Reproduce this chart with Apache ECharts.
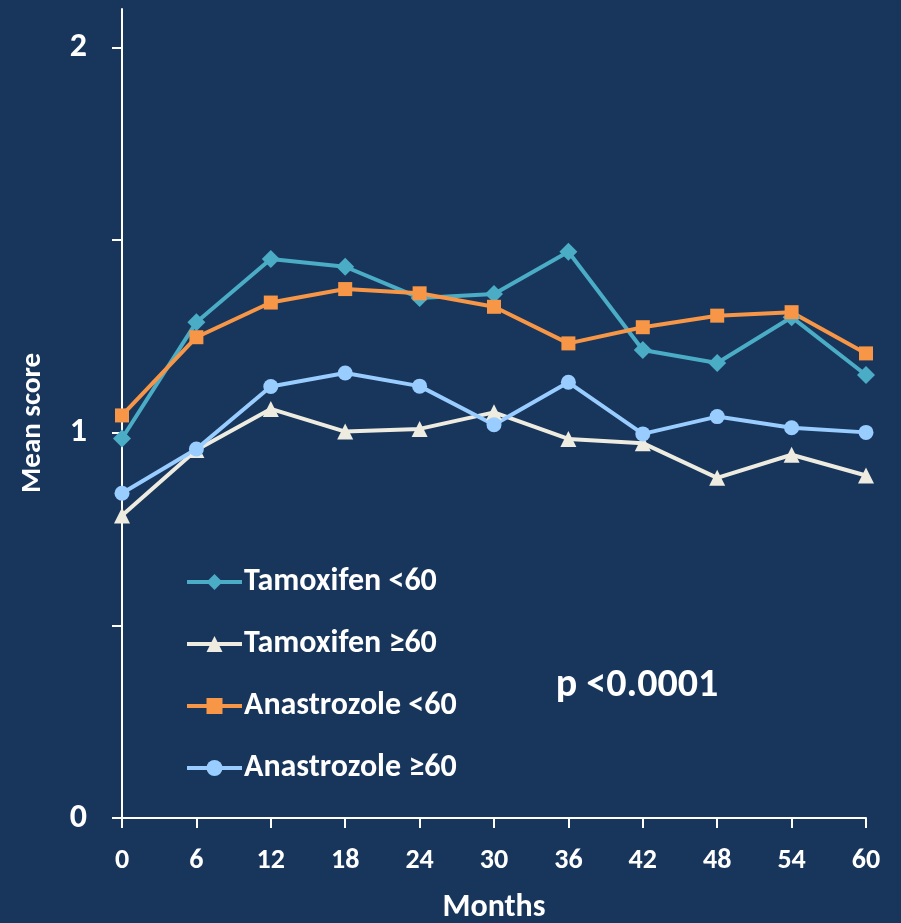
<!DOCTYPE html>
<html>
<head>
<meta charset="utf-8">
<style>
  html, body { margin: 0; padding: 0; background: #18365c; }
  #chart { width: 901px; height: 923px; }
</style>
<script src="https://cdn.jsdelivr.net/npm/echarts@6/dist/echarts.min.js"></script>
</head>
<body>
<div id="chart"></div>
<script>
// Months of follow-up
const months = [0, 6, 12, 18, 24, 30, 36, 42, 48, 54, 60];

// Mean score per group
const tamoxifenUnder60 = [0.985, 1.287, 1.451, 1.431, 1.350, 1.360, 1.470, 1.215, 1.181, 1.300, 1.150];
const tamoxifenOver60 = [0.785, 0.955, 1.062, 1.003, 1.010, 1.053, 0.984, 0.973, 0.883, 0.943, 0.889];
const anastrozoleUnder60 = [1.045, 1.248, 1.338, 1.373, 1.362, 1.327, 1.232, 1.274, 1.304, 1.313, 1.206];
const anastrozoleOver60 = [0.843, 0.958, 1.120, 1.155, 1.121, 1.021, 1.131, 0.997, 1.042, 1.013, 1.001];

const seriesNames = ['Tamoxifen <60', 'Tamoxifen \u226560', 'Anastrozole <60', 'Anastrozole \u226560'];
const yTicks = [0, 0.5, 1, 1.5, 2];
const yLabels = [0, 1, 2];

const FONT = 'Carlito, Lato, "Open Sans", sans-serif';
const WHITE = '#ffffff';

function pairs(values) {
  return months.map((m, i) => [m, values[i]]);
}

function lineSeries(name, values, color, symbol, size) {
  return {
    name: name,
    type: 'line',
    data: pairs(values),
    symbol: symbol,
    symbolSize: size,
    itemStyle: { color: color },
    lineStyle: { color: color, width: 4 },
    emphasis: { disabled: true },
    animation: false
  };
}

const chart = echarts.init(document.getElementById('chart'));
chart.setOption({
  backgroundColor: '#18365c',
  grid: { left: 122, right: 35, top: 9, bottom: 105, containLabel: false, outerBoundsMode: 'none' },
  xAxis: {
    type: 'value',
    min: 0, max: 60, interval: 6,
    name: 'Months',
    nameLocation: 'middle',
    nameGap: 74,
    nameTextStyle: { color: WHITE, fontFamily: FONT, fontWeight: 'bold', fontSize: 32 },
    axisLine: { lineStyle: { color: WHITE, width: 2 } },
    axisTick: { show: true, length: 10, lineStyle: { color: WHITE, width: 2 } },
    axisLabel: { color: WHITE, fontFamily: FONT, fontWeight: 'bold', fontSize: 28, margin: 29 },
    splitLine: { show: false }
  },
  yAxis: {
    type: 'value',
    min: 0, max: 2.1,
    axisLine: { show: true, lineStyle: { color: WHITE, width: 2 } },
    axisTick: { show: true, length: 10, customValues: yTicks, lineStyle: { color: WHITE, width: 2 } },
    axisLabel: { color: WHITE, fontFamily: FONT, fontWeight: 'bold', fontSize: 34, margin: 35, customValues: yLabels },
    splitLine: { show: false }
  },
  legend: {
    orient: 'vertical',
    left: 185, top: 566,
    padding: 0,
    itemWidth: 55, itemHeight: 20,
    itemGap: 30,
    data: seriesNames,
    lineStyle: { width: 4 },
    textStyle: { color: WHITE, fontFamily: FONT, fontWeight: 'bold', fontSize: 32, lineHeight: 32, padding: [0, 0, 0, -3] },
    selectedMode: false
  },
  graphic: [
    {
      type: 'text', x: 33, y: 423, rotation: Math.PI / 2,
      style: { text: 'Mean score', fill: WHITE, font: 'bold 29px ' + FONT, align: 'center', verticalAlign: 'middle' }
    },
    {
      type: 'text', x: 637, y: 686,
      style: { text: 'p <0.0001', fill: WHITE, font: 'bold 40px ' + FONT, align: 'center', verticalAlign: 'middle' }
    }
  ],
  series: [
    lineSeries(seriesNames[0], tamoxifenUnder60, '#4bacc6', 'diamond', 18),
    lineSeries(seriesNames[1], tamoxifenOver60, '#eeece1', 'triangle', 16),
    lineSeries(seriesNames[2], anastrozoleUnder60, '#f79646', 'rect', 14),
    lineSeries(seriesNames[3], anastrozoleOver60, '#99ccff', 'circle', 15)
  ]
});
</script>
</body>
</html>
